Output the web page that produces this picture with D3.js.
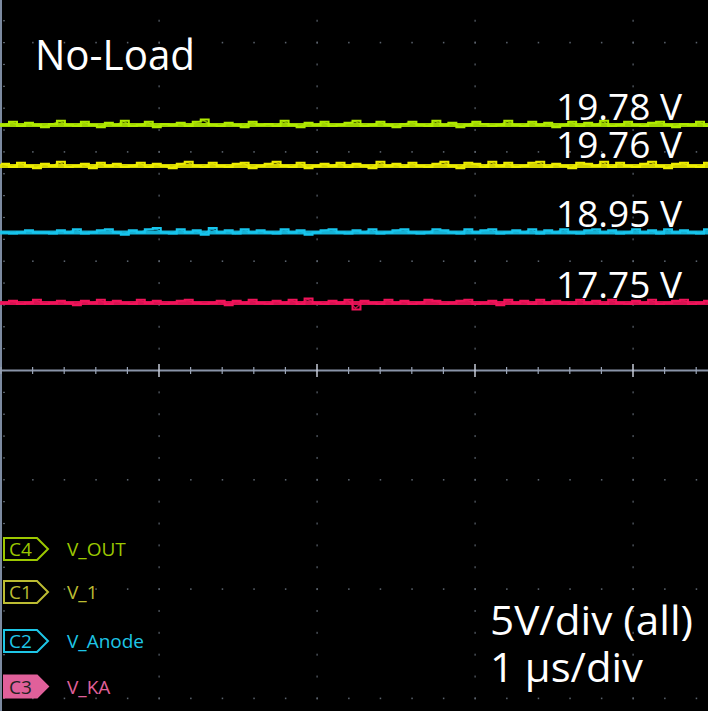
<!DOCTYPE html>
<html>
<head>
<meta charset="utf-8">
<script src="https://cdn.jsdelivr.net/npm/d3@7"></script>
<style>
html,body{margin:0;padding:0;background:#000;}
svg{display:block;}
</style>
</head>
<body>
<svg id="c" width="708" height="711"></svg>
<script>
// ---------- data ----------
const channelIds   = ["C4", "C1", "C2", "C3"];
const channelNames = ["V_OUT", "V_1", "V_Anode", "V_KA"];
const measuredVolts = [19.78, 19.76, 18.95, 17.75];
// on-screen trace level, in vertical divisions above the centre line
const traceLevelDiv = [2.246, 1.871, 1.263, 0.618];
const voltsPerDiv = 5;          // 5V/div (all)
const timePerDivUs = 1;         // 1 µs/div
// sampled noise on each trace (divisions), read from the picture
const noiseGreen = [0,0.03,-0.01,0.02,0,-0.02,0.01,0.04,0,-0.01,0.03,0,-0.02,0.02,0,0.04,-0.01,0,0.03,-0.02,0.01,0,0.02,-0.01,0.03,0.05,0,-0.01,0.02,0,-0.02,0.03,0,0.01,-0.01,0.04,0,-0.02,0.02,0,0.03,-0.01,0,0.02,0.04,-0.01,0,0.03,0,-0.02,0.01,0.03,0,-0.01,0.04,0,0.02,-0.02,0,0.03,0.01,-0.01,0,0.04,0,-0.01,0.03,0,0.02,-0.02,0,0.03,-0.01,0.02,0,0.04,-0.01,0,0.03,0,-0.01,0.02,0.03,0,-0.02,0.01,0,0.03,-0.01,0];
const noiseYellow = [0.02,-0.01,0.03,0,-0.02,0.02,0,0.04,-0.01,0,0.02,-0.02,0.03,0,0.02,-0.01,0,0.03,-0.01,0.02,0,-0.02,0.02,0.04,0,-0.01,0.03,0,-0.01,0.02,0.03,-0.02,0,0.02,0.04,0,-0.01,0.03,-0.02,0,0.02,0,0.03,-0.01,0.02,0,-0.02,0.04,0,0.02,-0.01,0.03,0,-0.01,0.02,0.04,0,-0.02,0.03,0.02,-0.01,0.04,0,0.03,-0.01,0,0.03,0.04,-0.01,0.02,0,-0.02,0.03,0.02,0,0.04,-0.01,0.03,0,-0.01,0.02,0.04,0,-0.02,0.02,0.03,0,-0.01,0.03,0];
const noiseCyan = [0,-0.01,0,0.02,0,0,-0.01,0.02,0,0.03,-0.01,0,0.02,0.03,0,-0.02,0.02,0,0.03,0.04,0,-0.01,0.03,0,0.02,-0.02,0.04,0,0.02,-0.01,0.03,0,0.02,0,-0.01,0.03,0,0.02,-0.02,0,0.02,0.03,0,-0.01,0.02,0,0.03,-0.01,0,0.02,0.03,0,-0.01,0,0.03,0.02,0,-0.01,0.03,0,0.02,0.03,-0.01,0,0.02,0,0.03,-0.01,0.02,0,0.03,0,-0.01,0.02,0.03,0,0.02,-0.01,0,0.03,0,0.02,-0.01,0.03,0,0.02,0,-0.01,0.03,0];
const noisePink = [0,0.02,-0.01,0,0.03,-0.01,0,0.02,0,-0.02,0.02,0,0.03,-0.01,0.02,0,-0.01,0.03,0,0.02,-0.01,0,0.02,0.03,0,-0.01,0,0.02,-0.02,0.02,0,0.03,0,-0.01,0.02,0,0.03,-0.01,0.04,0,-0.01,0.02,0,0.03,-0.06,0.02,0,-0.01,0.03,0,0.02,-0.01,0,0.03,0.02,-0.01,0,0.02,0.03,-0.01,0,0.02,-0.02,0.03,0,0.02,-0.01,0.03,0,0.02,0,-0.01,0.03,0,0.02,-0.01,0.03,0,-0.01,0.02,0,0.03,-0.01,0,0.02,0.03,-0.01,0,0.02,0];
const noiseSeries = [noiseGreen, noiseYellow, noiseCyan, noisePink];
const titleText = "No-Load";
const scaleLines = ["5V/div (all)", "1 \u00b5s/div"];

// ---------- styles ----------
const traceColors  = ["#b0ea00", "#ecec00", "#18c6ee", "#f0145a"];
const legendColors = ["#9cc800", "#bcbc32", "#1ec6e6", "#e0609a"];
const labelDy = [-5, -8, -5, -5];

// ---------- scales ----------
const svg = d3.select("#c");
const W = 708, H = 711;
const x = d3.scaleLinear().domain([0, 4.5 * timePerDivUs]).range([1, 1 + 4.5 * 158]);
const y = d3.scaleLinear().domain([-1, 1]).range([370.5 + 109.3, 370.5 - 109.3]);

svg.append("rect").attr("width", W).attr("height", H).attr("fill", "#000");

// ---------- graticule ----------
const grid = svg.append("g");
const majorT = d3.range(1, 5);
const majorV = [-3, -2, -1, 1, 2, 3];
const minorV = d3.range(-3.4, 3.5, 0.2);
const minorT = d3.range(0, 4.5, 0.2);
majorT.forEach(t => {
  minorV.forEach(v => {
    grid.append("rect").attr("x", x(t) - 0.5).attr("y", y(v) - 1).attr("width", 1.2).attr("height", 2).attr("fill", "#5a626c");
  });
});
majorV.forEach(v => {
  minorT.forEach(t => {
    grid.append("rect").attr("x", x(t) - 0.5).attr("y", y(v) - 0.8).attr("width", 1.5).attr("height", 1.6).attr("fill", "#5a626c");
  });
});
grid.append("line").attr("x1", 1).attr("x2", 1).attr("y1", 0).attr("y2", H).attr("stroke", "#7c8aa0").attr("stroke-width", 2);
minorV.forEach(v => {
  grid.append("rect").attr("x", 3).attr("y", y(v) - 0.6).attr("width", 2).attr("height", 1.2).attr("fill", "#5a626c");
});
grid.append("line").attr("x1", 0).attr("x2", W).attr("y1", y(0)).attr("y2", y(0)).attr("stroke", "#8994a8").attr("stroke-width", 2);
minorT.forEach(t => {
  const isMajor = Math.abs(t - Math.round(t)) < 1e-6 && t > 0;
  const h = isMajor ? 13 : 7;
  grid.append("line").attr("x1", x(t)).attr("x2", x(t))
    .attr("y1", y(0) - h / 2).attr("y2", y(0) + h / 2)
    .attr("stroke", isMajor ? "#c4cad6" : "#9aa4b6").attr("stroke-width", isMajor ? 1.5 : 1.2);
});

// ---------- traces ----------
const traces = svg.append("g");
noiseSeries.forEach((ns, i) => {
  const n = ns.length;
  traces.append("line").attr("x1", 0).attr("x2", W)
    .attr("y1", y(traceLevelDiv[i])).attr("y2", y(traceLevelDiv[i]))
    .attr("stroke", traceColors[i]).attr("stroke-width", 4).attr("opacity", 0.9);
  const pts = ns.map((d, k) => [k * 4.5 / (n - 1), traceLevelDiv[i] + d]);
  const line = d3.line().x(d => x(d[0])).y(d => y(d[1])).curve(d3.curveStepAfter);
  traces.append("path").attr("d", line(pts)).attr("fill", "none")
    .attr("stroke", traceColors[i]).attr("stroke-width", 2);
  const line2 = d3.line().x(d => x(d[0]) + 3).y(d => y(traceLevelDiv[i] - d[1] + traceLevelDiv[i] * 0) ).curve(d3.curveLinear);
  const pts2 = ns.map((d, k) => [k * 4.5 / (n - 1), -d * 0.8]);
  traces.append("path").attr("d", line2(pts2)).attr("fill", "none")
    .attr("stroke", traceColors[i]).attr("stroke-width", 1.5).attr("opacity", 0.8);
});

// ---------- measurement labels ----------
const font = "'Open Sans', 'DejaVu Sans', sans-serif";
measuredVolts.forEach((v, i) => {
  svg.append("text").attr("x", 556).attr("y", y(traceLevelDiv[i]) + labelDy[i])
    .attr("fill", "#fff")
    .attr("textLength", 126).attr("lengthAdjust", "spacingAndGlyphs")
    .style("font-family", font).style("font-size", "36px")
    .text(v.toFixed(2) + " V");
});

svg.append("text").attr("x", 35).attr("y", 70).attr("fill", "#fff")
  .attr("textLength", 160).attr("lengthAdjust", "spacingAndGlyphs")
  .style("font-family", font).style("font-size", "42px").text(titleText);

const scaleW = [203, 153];
scaleLines.forEach((s, i) => {
  svg.append("text").attr("x", 490).attr("y", [635, 682][i]).attr("fill", "#fff")
    .attr("textLength", scaleW[i]).attr("lengthAdjust", "spacingAndGlyphs")
    .style("font-family", font).style("font-size", "40px").text(s);
});

// ---------- legend ----------
const legendY = [549, 592, 641, 686.5];
channelIds.forEach((id, i) => {
  const g = svg.append("g").attr("transform", `translate(0,${legendY[i]})`);
  const filled = i === 3;
  g.append("path")
    .attr("d", "M4,-11 L37,-11 L48,0 L37,11 L4,11 Z")
    .attr("fill", filled ? legendColors[i] : "#000")
    .attr("stroke", legendColors[i]).attr("stroke-width", 2);
  g.append("text").attr("x", 9).attr("y", 7).attr("fill", filled ? "#222" : legendColors[i])
    .style("font-family", font).style("font-size", "19px").text(id);
  g.append("text").attr("x", 67).attr("y", 7).attr("fill", legendColors[i])
    .style("font-family", font).style("font-size", "19px").text(channelNames[i]);
});
</script>
</body>
</html>
